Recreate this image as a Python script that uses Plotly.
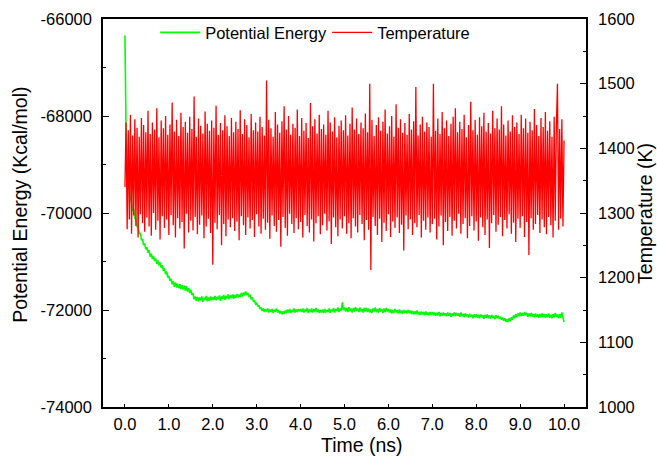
import plotly.graph_objects as go

# ---- data ----
time_step_ns = 0.025
n_points = 401
time_ns = [round(i * time_step_ns, 3) for i in range(n_points)]

potential_energy = [
    -66340,-68300,-68960,-69340,-69470,-69720,-69780,-69950,-69940,-70110,-70120,-70280,-70290,-70430,-70410,-70560,-70540,-70660,-70630,-70750,
    -70710,-70820,-70770,-70900,-70840,-70950,-70890,-70990,-70940,-71050,-70980,-71080,-71020,-71130,-71080,-71190,-71140,-71260,-71210,-71330,
    -71290,-71400,-71360,-71470,-71410,-71520,-71430,-71540,-71460,-71550,-71470,-71570,-71490,-71580,-71500,-71600,-71510,-71620,-71550,-71650,
    -71580,-71690,-71650,-71780,-71720,-71810,-71730,-71820,-71740,-71800,-71720,-71830,-71750,-71790,-71710,-71820,-71740,-71810,-71720,-71800,
    -71740,-71790,-71710,-71800,-71730,-71780,-71700,-71810,-71720,-71770,-71690,-71790,-71710,-71760,-71680,-71780,-71700,-71750,-71680,-71770,
    -71690,-71750,-71670,-71740,-71680,-71730,-71650,-71720,-71640,-71700,-71620,-71690,-71650,-71720,-71700,-71780,-71740,-71820,-71810,-71880,
    -71860,-71930,-71900,-71980,-71950,-72020,-71970,-72040,-71980,-72030,-71970,-72050,-71990,-72040,-71980,-72060,-72000,-72030,-71970,-72050,
    -72000,-72070,-72020,-72090,-72030,-72080,-72010,-72060,-71990,-72050,-71980,-72060,-72000,-72040,-71970,-72050,-71990,-72040,-71980,-72030,
    -71980,-72040,-71970,-72050,-71990,-72030,-71960,-72060,-71990,-72040,-71970,-72050,-71980,-72030,-71960,-72040,-71990,-72060,-72000,-72050,
    -71990,-72060,-71980,-72050,-72000,-72040,-71970,-72060,-71990,-72030,-71960,-72050,-71980,-72020,-71950,-72040,-71970,-72010,-71840,-72000,
    -71950,-72030,-71960,-72040,-71940,-72020,-71970,-72050,-71960,-72030,-71940,-72020,-71970,-72040,-71950,-72030,-71980,-72050,-71960,-72030,
    -71960,-72040,-71970,-72050,-71990,-72060,-71970,-72030,-71950,-72040,-71980,-72050,-71960,-72030,-71990,-72060,-71970,-72040,-71960,-72030,
    -71980,-72050,-71990,-72070,-72000,-72060,-71980,-72050,-72000,-72070,-71990,-72060,-72010,-72080,-72000,-72060,-72010,-72070,-72000,-72060,
    -72010,-72080,-72020,-72090,-72030,-72080,-72010,-72090,-72040,-72100,-72030,-72090,-72040,-72110,-72030,-72100,-72050,-72110,-72040,-72100,
    -72040,-72110,-72050,-72120,-72060,-72110,-72040,-72130,-72060,-72120,-72050,-72110,-72070,-72130,-72050,-72120,-72060,-72140,-72070,-72120,
    -72050,-72130,-72060,-72120,-72070,-72140,-72050,-72130,-72080,-72150,-72070,-72130,-72090,-72160,-72080,-72140,-72100,-72170,-72090,-72150,
    -72090,-72160,-72100,-72170,-72090,-72150,-72110,-72180,-72100,-72160,-72090,-72170,-72110,-72180,-72100,-72160,-72120,-72190,-72110,-72170,
    -72120,-72180,-72140,-72200,-72160,-72220,-72170,-72240,-72190,-72250,-72170,-72230,-72150,-72200,-72110,-72170,-72080,-72150,-72070,-72130,
    -72050,-72130,-72060,-72120,-72040,-72110,-72060,-72140,-72070,-72130,-72060,-72140,-72080,-72150,-72070,-72140,-72090,-72160,-72080,-72150,
    -72070,-72150,-72080,-72160,-72090,-72150,-72070,-72160,-72100,-72170,-72080,-72150,-72060,-72140,-72090,-72170,-72080,-72160,-72050,-72150,
    -72250,
]

temperature = [
    1340,1440,1275,1428,1290,1452,1268,1420,1296,1445,1280,1432,1262,1418,1298,1447,1284,1436,1271,1425,
    1293,1458,1279,1422,1265,1440,1300,1429,1274,1462,1288,1417,1259,1443,1295,1431,1277,1450,1290,1421,
    1266,1437,1297,1471,1281,1426,1262,1444,1292,1419,1276,1455,1286,1433,1245,1441,1299,1424,1270,1449,
    1288,1430,1273,1480,1294,1418,1267,1446,1282,1435,1296,1423,1261,1457,1279,1438,1291,1427,1269,1443,
    1220,1432,1285,1466,1275,1421,1297,1439,1250,1428,1283,1451,1264,1434,1290,1419,1278,1447,1292,1425,
    1272,1441,1287,1430,1258,1459,1295,1422,1281,1445,1266,1436,1293,1417,1276,1453,1289,1428,1263,1440,
    1298,1426,1279,1449,1268,1433,1291,1420,1274,1505,1285,1444,1260,1431,1296,1418,1280,1456,1271,1437,
    1289,1424,1248,1442,1294,1465,1277,1429,1265,1450,1299,1421,1283,1438,1269,1432,1292,1460,1275,1419,
    1286,1447,1262,1427,1297,1439,1280,1416,1270,1470,1290,1434,1256,1445,1284,1423,1295,1452,1267,1430,
    1281,1437,1299,1421,1273,1458,1287,1440,1252,1426,1293,1448,1278,1417,1264,1435,1290,1443,1276,1428,
    1295,1451,1268,1420,1284,1438,1261,1463,1292,1429,1279,1446,1270,1422,1297,1440,1283,1431,1258,1454,
    1289,1425,1274,1500,1212,1444,1294,1419,1280,1436,1266,1448,1291,1427,1255,1441,1285,1460,1272,1423,
    1298,1434,1263,1450,1287,1418,1277,1468,1293,1432,1269,1445,1282,1424,1242,1439,1296,1421,1275,1453,
    1290,1429,1266,1442,1284,1495,1278,1420,1297,1437,1262,1449,1288,1426,1274,1440,1293,1433,1270,1418,
    1283,1500,1291,1427,1259,1446,1279,1422,1296,1456,1250,1431,1286,1443,1272,1419,1294,1438,1265,1449,
    1288,1462,1276,1425,1299,1441,1268,1430,1283,1452,1292,1417,1261,1436,1280,1472,1295,1428,1273,1444,
    1287,1421,1257,1448,1293,1434,1278,1455,1266,1426,1290,1439,1246,1423,1284,1458,1297,1431,1271,1446,
    1282,1429,1294,1465,1264,1437,1289,1420,1276,1443,1298,1426,1268,1451,1285,1433,1255,1440,1291,1422,
    1277,1452,1295,1431,1263,1446,1286,1424,1235,1441,1292,1428,1274,1461,1283,1436,1297,1419,1269,1447,
    1290,1433,1278,1456,1267,1427,1294,1442,1281,1418,1262,1449,1288,1435,1500,1274,1430,1291,1445,1279,
    1412,
]

x_tickvals = [0, 1, 2, 3, 4, 5, 6, 7, 8, 9, 10]
x_ticktext = ["0.0", "1.0", "2.0", "3.0", "4.0", "5.0", "6.0", "7.0", "8.0", "9.0", "10.0"]
pe_tickvals = [-74000, -72000, -70000, -68000, -66000]
pe_ticktext = ["-74000", "-72000", "-70000", "-68000", "-66000"]
t_tickvals = [1000, 1100, 1200, 1300, 1400, 1500, 1600]

FONT = "Liberation Sans, Arial, sans-serif"

fig = go.Figure()
fig.add_trace(go.Scatter(
    x=time_ns, y=potential_energy, mode="lines", name="Potential Energy",
    line=dict(color="#00ff00", width=1.6, simplify=False), xaxis="x", yaxis="y",
))
fig.add_trace(go.Scatter(
    x=time_ns, y=temperature, mode="lines", name="Temperature",
    line=dict(color="#ff0000", width=1.3, simplify=False), xaxis="x", yaxis="y2",
))

axis_common = dict(showgrid=False, zeroline=False, showline=True, linecolor="black",
                   linewidth=1.5, tickcolor="black", tickwidth=1.2, automargin=False,
                   tickfont=dict(family=FONT, size=16.5, color="black"))

title_font = dict(family=FONT, size=19.5, color="black")

fig.update_layout(
    width=657, height=461,
    margin=dict(l=103, r=71, t=19, b=54, autoexpand=False),
    paper_bgcolor="white", plot_bgcolor="white",
    font=dict(family=FONT, color="black"),
    showlegend=True,
    legend=dict(orientation="h", x=0.108, y=1.01, xanchor="left", yanchor="top",
                font=dict(family=FONT, size=16.5, color="black"),
                bgcolor="rgba(0,0,0,0)", itemwidth=40, tracegroupgap=0,
                entrywidth=117, entrywidthmode="pixels"),
    xaxis=dict(range=[-0.5, 10.5], tickvals=x_tickvals, ticktext=x_ticktext,
               ticks="inside", ticklen=3, mirror=True, ticklabelstandoff=1,
               **axis_common),
    xaxis2=dict(range=[-0.5, 10.5], overlaying="x", anchor="y", side="bottom",
                tickvals=[0, 2, 4, 6, 8, 10], showticklabels=False, ticks="inside", ticklen=6,
                showgrid=False, zeroline=False, showline=False, tickcolor="black", tickwidth=1.2),
    yaxis=dict(range=[-74000, -66000], tickvals=pe_tickvals, ticktext=pe_ticktext,
               ticks="inside", ticklen=6, ticklabelstandoff=6,
               minor=dict(tickvals=[-73000, -71000, -69000, -67000], ticks="inside", ticklen=3,
                          tickcolor="black", tickwidth=1.2),
               **axis_common),
    yaxis2=dict(range=[1000, 1600], tickvals=t_tickvals, overlaying="y", side="right", anchor="x",
                ticks="inside", ticklen=6, ticklabelstandoff=7,
                minor=dict(dtick=50, ticks="inside", ticklen=3, tickcolor="black", tickwidth=1.2),
                **axis_common),
    annotations=[
        dict(text="Potential Energy (Kcal/mol)", xref="paper", yref="paper",
             x=-0.172, y=0.521, xanchor="center", yanchor="middle", textangle=-90,
             showarrow=False, font=title_font),
        dict(text="Time (ns)", xref="paper", yref="paper",
             x=0.536, y=-0.097, xanchor="center", yanchor="middle",
             showarrow=False, font=title_font),
        dict(text="Temperature (K)", xref="paper", yref="paper",
             x=1.122, y=0.5, xanchor="center", yanchor="middle", textangle=-90,
             showarrow=False, font=title_font),
    ],
)

fig.write_html("out.html", config={"displayModeBar": False},
               post_script="document.body.style.margin='0px';document.body.style.overflow='hidden';")
